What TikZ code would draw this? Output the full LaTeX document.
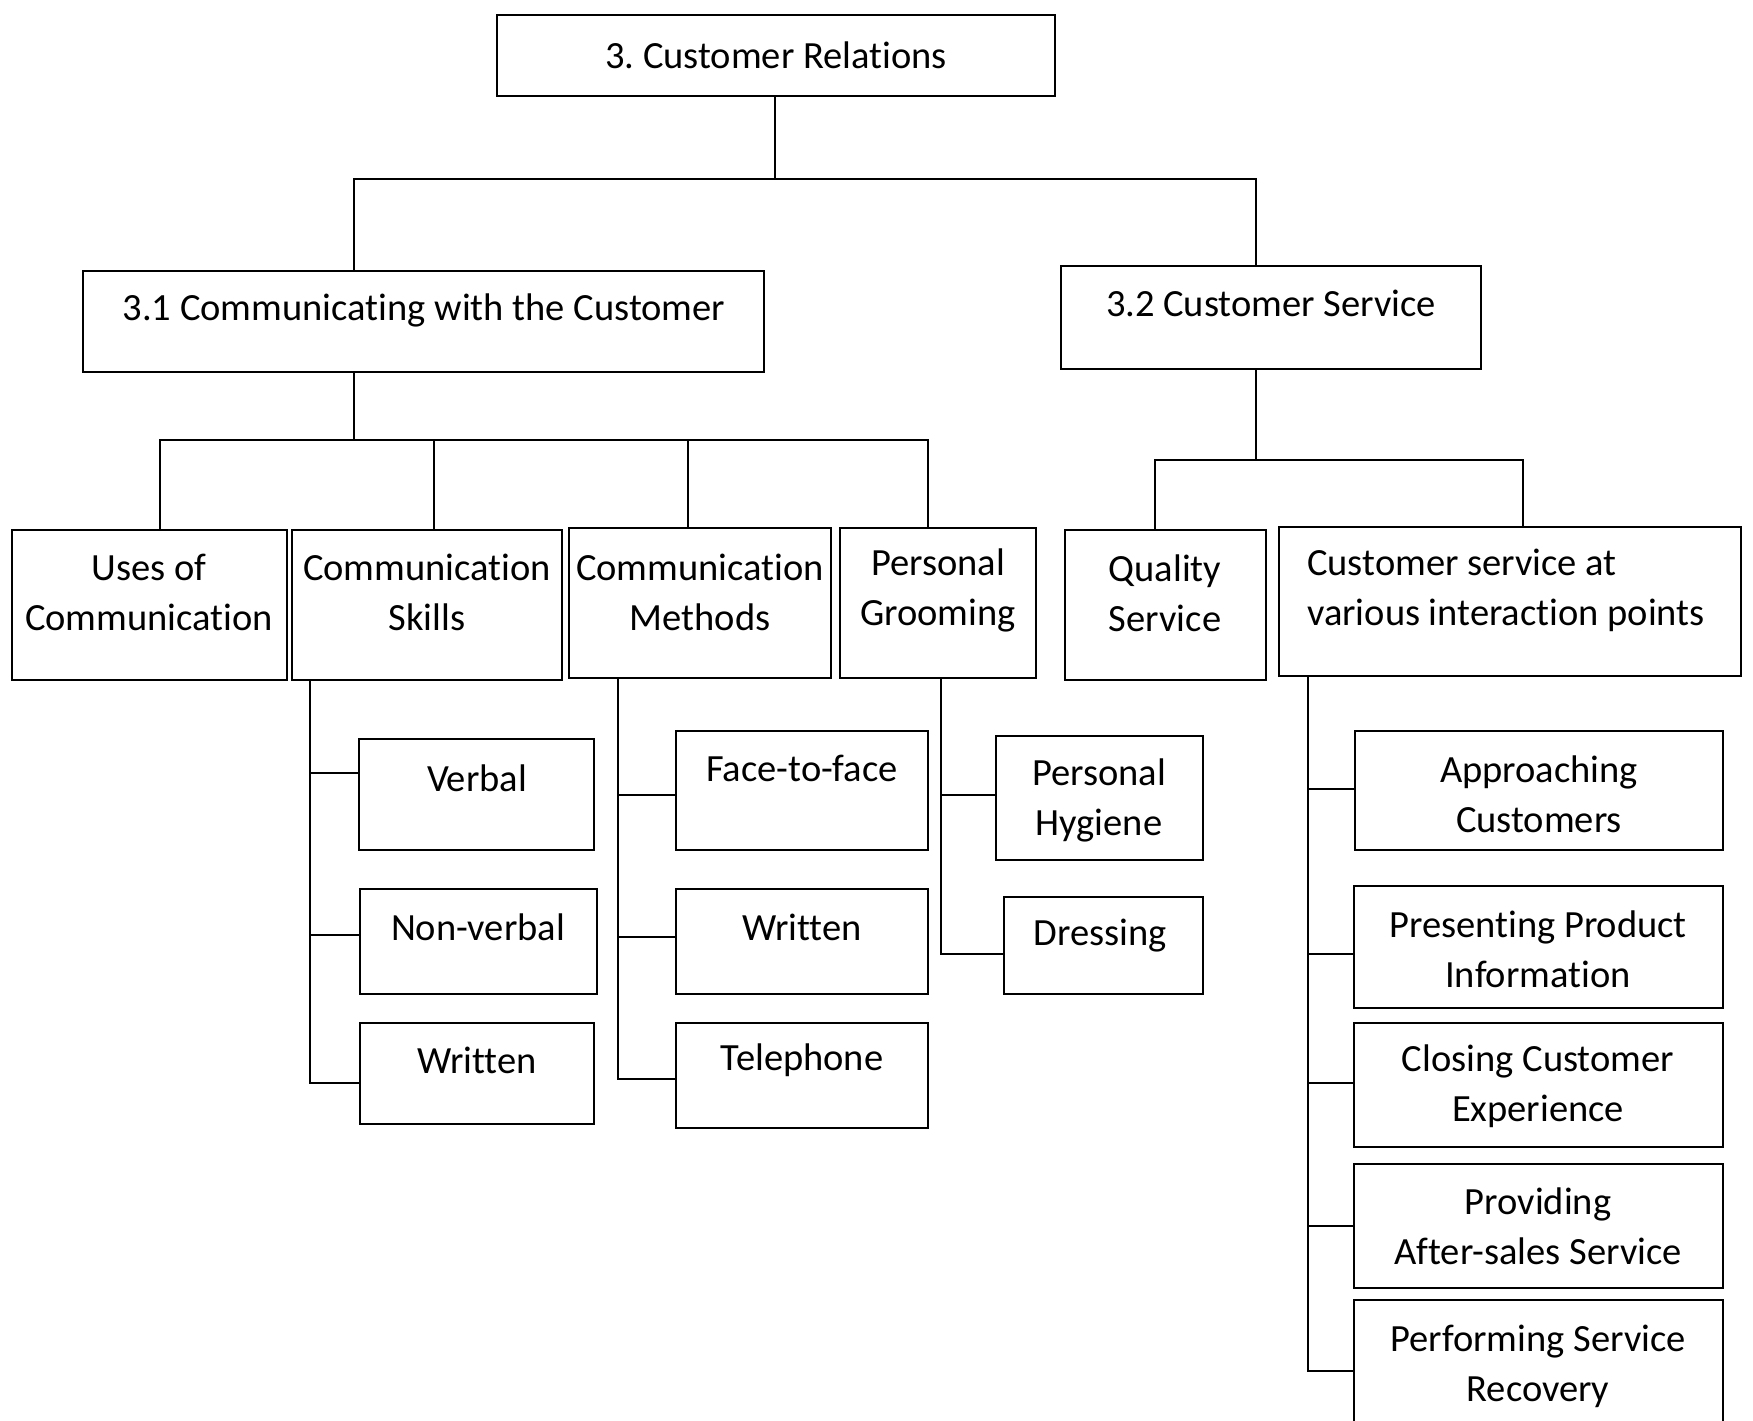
\documentclass[tikz,border=0pt]{standalone}
\usepackage{fontspec}
\setmainfont{Carlito}[Ligatures=NoCommon]
\frenchspacing
\usetikzlibrary{calc}
\tikzset{
  box/.style={draw, line width=2.8pt, inner sep=0pt, outer sep=0pt},
  txt/.style={font=\fontsize{38.5}{50}\selectfont, align=center, anchor=center, inner sep=0pt},
  conn/.style={line width=2.8pt, line cap=rect}
}
\newcommand{\bx}[5]{\node[box, minimum width={(#4-#2)*1pt}, minimum height={(#5-#3)*1pt}] (#1) at ({(#2+#4)/2},{(#3+#5)/2}) {};}
\begin{document}
\begin{tikzpicture}[x=1pt,y=-1pt]
\path[use as bounding box, clip] (0,0) rectangle (1753,1421);
\fill[white] (0,0) rectangle (1753,1421);
% boxes
\bx{root}{497}{15}{1055}{96}
\bx{c31}{83}{271}{764}{372}
\bx{c32}{1061}{266}{1481}{369}
\bx{uses}{12}{530}{287}{680}
\bx{skills}{292}{530}{562}{680}
\bx{methods}{569}{528}{831}{678}
\bx{groom}{840}{528}{1036}{678}
\bx{quality}{1065}{530}{1266}{680}
\bx{custsvc}{1279}{527}{1741}{676}
\bx{verbal}{359}{739}{594}{850}
\bx{nonverbal}{360}{889}{597}{994}
\bx{writtenA}{360}{1023}{594}{1124}
\bx{face}{676}{731}{928}{850}
\bx{writtenB}{676}{889}{928}{994}
\bx{phone}{676}{1023}{928}{1128}
\bx{hygiene}{996}{736}{1203}{860}
\bx{dressing}{1004}{897}{1203}{994}
\bx{approach}{1355}{731}{1723}{850}
\bx{present}{1354}{886}{1723}{1008}
\bx{closing}{1354}{1023}{1723}{1147}
\bx{providing}{1354}{1164}{1723}{1288}
\bx{performing}{1354}{1300}{1723}{1470}
% texts
\node[txt] (troot) at (776,55) {3. Customer Relations};
\node[txt] (tc31) at (424,310) {3.1 Communicating with the Customer};
\node[txt] (tc32) at (1271,303) {3.2 Customer Service};
\node[txt] (tuses) at (149,592) {Uses of\\Communication};
\node[txt] (tskills) at (427,592) {Communication\\Skills};
\node[txt] (tmethods) at (700,592) {Communication\\Methods};
\node[txt] (tgroom) at (938,590) {Personal\\Grooming};
\node[txt] (tquality) at (1165,593) {Quality\\Service};
\node[txt, align=left] (tcustsvc) at (1506,590) {Customer service at\\various interaction points};
\node[txt] (tverbal) at (477,778) {Verbal};
\node[txt] (tnonverbal) at (478,927) {Non-verbal};
\node[txt] (twrittenA) at (477,1060) {Written};
\node[txt] (tface) at (802,768) {Face-to-face};
\node[txt] (twrittenB) at (802,927) {Written};
\node[txt] (tphone) at (802,1060) {Telephone};
\node[txt] (thygiene) at (1099,800) {Personal\\Hygiene};
\node[txt] (tdressing) at (1100,936) {Dressing};
\node[txt] (tapproach) at (1539,794) {Approaching\\Customers};
\node[txt] (tpresent) at (1538,949) {Presenting Product\\Information};
\node[txt] (tclosing) at (1538,1086) {Closing Customer\\Experience};
\node[txt] (tproviding) at (1538,1226) {Providing\\After-sales Service};
\node[txt] (tperforming) at (1538,1366) {Performing Service\\Recovery};
% level 1 connectors
\coordinate (j0) at (775,179);
\coordinate (a1) at (354,179);
\coordinate (a2) at (1256,179);
\draw[conn] (root.south -| j0) -- (j0);
\draw[conn] (a1) -- (a2);
\draw[conn] (a1) -- (a1 |- c31.north);
\draw[conn] (a2) -- (a2 |- c32.north);
% 3.1 children
\coordinate (j1) at (354,440);
\coordinate (b1) at (160,440);
\coordinate (b2) at (434,440);
\coordinate (b3) at (688,440);
\coordinate (b4) at (928,440);
\draw[conn] (c31.south -| j1) -- (j1);
\draw[conn] (b1) -- (b4);
\draw[conn] (b1) -- (b1 |- uses.north);
\draw[conn] (b2) -- (b2 |- skills.north);
\draw[conn] (b3) -- (b3 |- methods.north);
\draw[conn] (b4) -- (b4 |- groom.north);
% 3.2 children
\coordinate (j2) at (1256,460);
\coordinate (c1) at (1155,460);
\coordinate (c2) at (1523,460);
\draw[conn] (c32.south -| j2) -- (j2);
\draw[conn] (c1) -- (c2);
\draw[conn] (c1) -- (c1 |- quality.north);
\draw[conn] (c2) -- (c2 |- custsvc.north);
% skills
\coordinate (s1) at (310,773);
\coordinate (s2) at (310,935);
\coordinate (s3) at (310,1083);
\draw[conn] (skills.south -| s1) -- (s3);
\draw[conn] (s1) -- (s1 -| verbal.west);
\draw[conn] (s2) -- (s2 -| nonverbal.west);
\draw[conn] (s3) -- (s3 -| writtenA.west);
% methods
\coordinate (m1) at (618,795);
\coordinate (m2) at (618,937);
\coordinate (m3) at (618,1079);
\draw[conn] (methods.south -| m1) -- (m3);
\draw[conn] (m1) -- (m1 -| face.west);
\draw[conn] (m2) -- (m2 -| writtenB.west);
\draw[conn] (m3) -- (m3 -| phone.west);
% grooming
\coordinate (g1) at (941,795);
\coordinate (g2) at (941,954);
\draw[conn] (groom.south -| g1) -- (g2);
\draw[conn] (g1) -- (g1 -| hygiene.west);
\draw[conn] (g2) -- (g2 -| dressing.west);
% customer service
\coordinate (k1) at (1308,789);
\coordinate (k2) at (1308,954);
\coordinate (k3) at (1308,1083);
\coordinate (k4) at (1308,1226);
\coordinate (k5) at (1308,1371);
\draw[conn] (custsvc.south -| k1) -- (k5);
\draw[conn] (k1) -- (k1 -| approach.west);
\draw[conn] (k2) -- (k2 -| present.west);
\draw[conn] (k3) -- (k3 -| closing.west);
\draw[conn] (k4) -- (k4 -| providing.west);
\draw[conn] (k5) -- (k5 -| performing.west);
\end{tikzpicture}
\end{document}
